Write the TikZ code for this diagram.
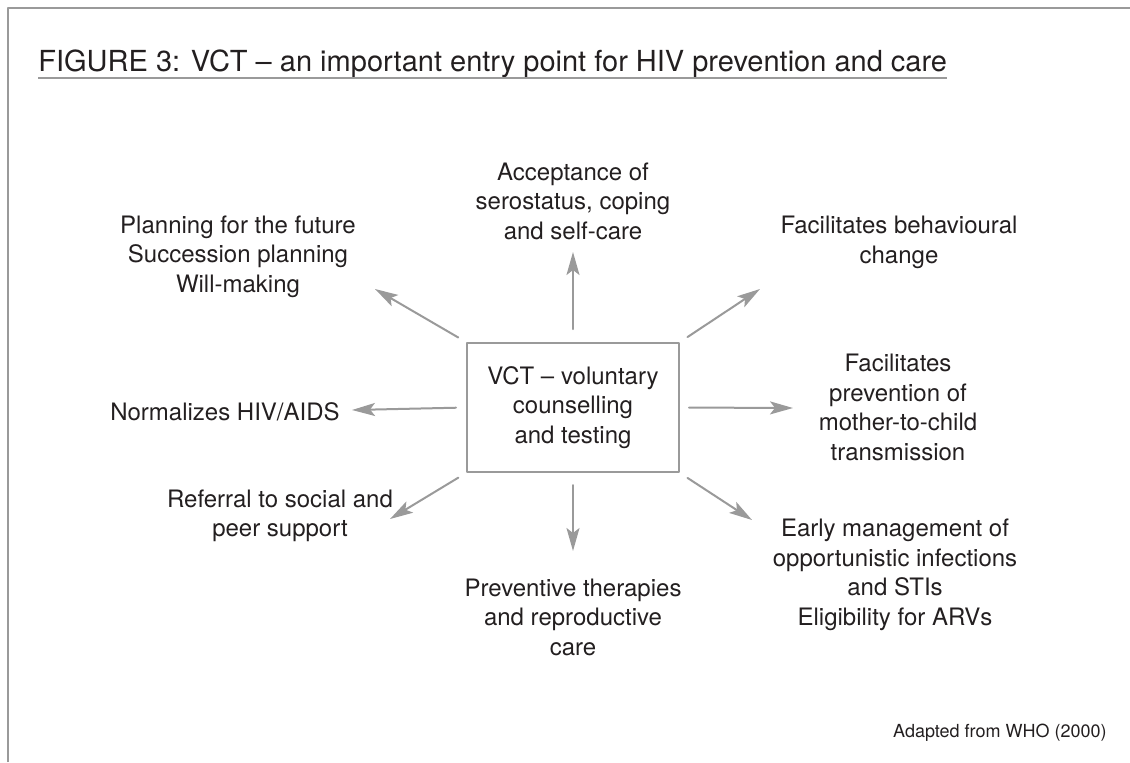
\documentclass[tikz,border=0pt]{standalone}
\usepackage{fontspec}
\setmainfont{TeX Gyre Heros}
\usetikzlibrary{arrows.meta}
\definecolor{linegray}{HTML}{9A9A9A}
\definecolor{ink}{HTML}{231F20}
\newcommand{\bodyfont}{\fontsize{12}{14.75}\selectfont}
\tikzset{every picture/.style={line cap=round, line join=round}}
\tikzset{box/.style={draw=linegray, rectangle, line width=1pt,
  minimum width=106pt, minimum height=64.5pt, align=center, text=ink, font=\bodyfont}}
\tikzset{arrow/.style={-{Stealth[length=11.5pt,width=6.5pt,inset=2.5pt]}, draw=linegray, line width=1pt}}
\tikzset{outcome/.style={align=center, text=ink, inner sep=0pt, font=\bodyfont}}
\tikzset{frame/.style={draw=linegray, line width=1.1pt, line cap=butt}}

\begin{document}
\begin{tikzpicture}[x=0.5pt,y=-0.5pt]
  \useasboundingbox (0,0) rectangle (1130,762);
  % frame and title
  \draw[frame] (8,762) -- (8,8) -- (1130,8);
  \node[anchor=base west, text=ink, inner sep=0pt, font=\fontsize{14.5}{17}\selectfont] (title) at (38,71)
    {FIGURE 3: VCT -- an important entry point for HIV prevention and care};
  \draw[frame] ([yshift=-3.5pt]title.base west) -- ([yshift=-3.5pt]title.base east);

  % centre
  \node[box] (vct) at (573,407.5) {VCT -- voluntary\\counselling\\and testing};

  % outcomes
  \node[outcome] (accept) at (573,201) {Acceptance of\\serostatus, coping\\and self-care};
  \node[outcome] (behav) at (899,242.5) {Facilitates behavioural\\change};
  \node[outcome] (pmtct) at (898,407.5) {Facilitates\\prevention of\\mother-to-child\\transmission};
  \node[outcome] (early) at (895,575) {Early management of\\opportunistic infections\\and STIs\\Eligibility for ARVs};
  \node[outcome] (prevent) at (573,617) {Preventive therapies\\and reproductive\\care};
  \node[outcome] (referral) at (280,516) {Referral to social and\\peer support};
  \node[outcome] (normal) at (225,412) {Normalizes HIV/AIDS};
  \node[outcome] (future) at (238,256.5) {Planning for the future\\Succession planning\\Will-making};

  % arrow tips
  \coordinate (tipN) at (573,252);
  \coordinate (tipNE) at (760,289);
  \coordinate (tipE) at (793,408);
  \coordinate (tipSE) at (752,520);
  \coordinate (tipS) at (573,551);
  \coordinate (tipSW) at (390,519);
  \coordinate (tipW) at (352,410);
  \coordinate (tipNW) at (375,289);

  \draw[arrow, shorten <=6.5pt] (vct.north) -- (tipN);
  \draw[arrow, shorten <=4.5pt] (vct.north east) -- (tipNE);
  \draw[arrow, shorten <=4.5pt] (vct.east) -- (tipE);
  \draw[arrow, shorten <=4.5pt] (vct.south east) -- (tipSE);
  \draw[arrow, shorten <=6pt] (vct.south) -- (tipS);
  \draw[arrow, shorten <=4.5pt] (vct.south west) -- (tipSW);
  \draw[arrow, shorten <=5pt] (vct.west) -- (tipW);
  \draw[arrow, shorten <=4.5pt] (vct.north west) -- (tipNW);

  % source
  \node[anchor=base east, text=ink, inner sep=0pt, font=\fontsize{9}{11}\selectfont] (source) at (1107,737)
    {Adapted from WHO (2000)};
\end{tikzpicture}
\end{document}
